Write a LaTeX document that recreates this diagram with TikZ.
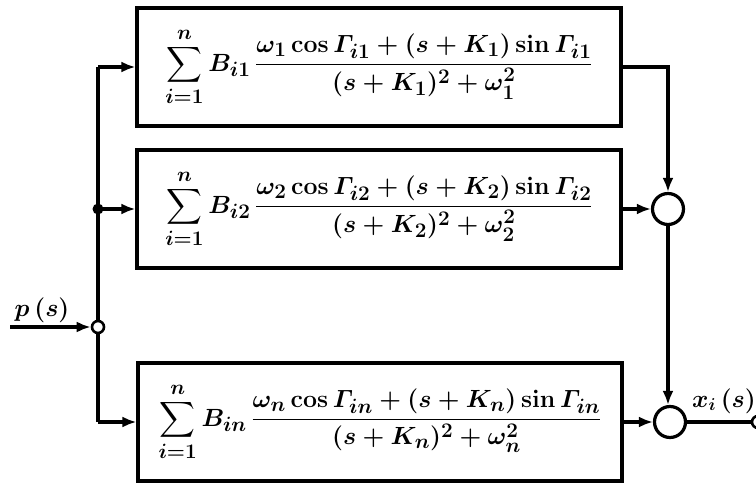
\documentclass[tikz,border=0pt]{standalone}
\usepackage{amsmath}
\usetikzlibrary{arrows.meta}
\begin{document}
\begin{tikzpicture}[x=1pt,y=1pt,
  blk/.style={draw,line width=3.2pt,minimum width=484pt,minimum height=118pt,inner sep=0pt,font=\fontsize{28}{33}\selectfont\boldmath},
  sumc/.style={circle,draw,line width=3.2pt,minimum size=31pt,inner sep=0pt},
  jn/.style={circle,draw,line width=2.6pt,minimum size=12pt,fill=white,inner sep=0pt},
  dot/.style={circle,fill,minimum size=11pt,inner sep=0pt},
  wire/.style={line width=3.2pt},
  arr/.style={wire,-{Latex[length=14pt,width=11pt]}},
  lbl/.style={font=\fontsize{25}{30}\selectfont\boldmath}
]
\useasboundingbox (0,0) rectangle (756,485);
\node[blk] (b1) at (379,418) {$\displaystyle\sum_{i=1}^{n} B_{i1}\,\frac{\omega_1\cos\varGamma_{i1}+(s+K_1)\sin\varGamma_{i1}}{(s+K_1)^2+\omega_1^2}$};
\node[blk] (b2) at (379,276) {$\displaystyle\sum_{i=1}^{n} B_{i2}\,\frac{\omega_2\cos\varGamma_{i2}+(s+K_2)\sin\varGamma_{i2}}{(s+K_2)^2+\omega_2^2}$};
\node[blk] (b3) at (380,63) {$\displaystyle\sum_{i=1}^{n} B_{in}\,\frac{\omega_n\cos\varGamma_{in}+(s+K_n)\sin\varGamma_{in}}{(s+K_n)^2+\omega_n^2}$};
\coordinate (t) at (98,418);
\node[dot] (m) at (98,276) {};
\coordinate (bt) at (98,63);
\coordinate (in) at (10,158);
\draw[wire] (t) -- (bt);
\node[jn] (j) at (98,158) {};
\draw[arr] (t) -- (b1.west);
\draw[arr] (m.center) -- (b2.west);
\draw[arr] (bt) -- (b3.west);
\draw[arr] (in) -- (j.west);
\node[lbl] (pl) at (42,175) {$p\,(s)$};
\node[sumc] (s2) at (668,276) {};
\node[sumc] (s3) at (670,63) {};
\draw[arr] (b1.east) -| (s2.north);
\draw[arr] (b2.east) -- (s2.west);
\draw[arr] (s2.south) -- (s2.south |- s3.north);
\draw[arr] (b3.east) -- (s3.west);
\node[jn] (o) at (758,63) {};
\draw[wire] (s3.east) -- (o.west);
\node[lbl] (xl) at (724,84) {$x_i\,(s)$};
\end{tikzpicture}
\end{document}
